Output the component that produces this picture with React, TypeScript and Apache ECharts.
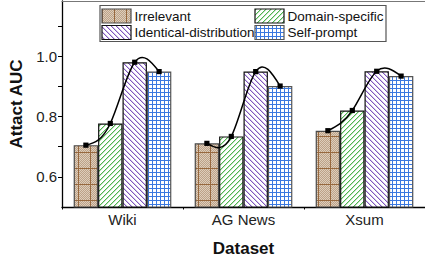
import React, { useEffect, useRef } from "react";
import * as echarts from "echarts";

const categories = ["Wiki", "AG News", "Xsum"];
const seriesNames = ["Irrelevant", "Domain-specific", "Identical-distribution", "Self-prompt"];
const irrelevant = [0.705, 0.711, 0.753];
const domainSpecific = [0.777, 0.734, 0.82];
const identicalDist = [0.98, 0.949, 0.95];
const selfPrompt = [0.949, 0.901, 0.934];
const yLabelValues = [0.6, 0.8, 1.0];
const yTickValues = [0.6, 0.7, 0.8, 0.9, 1.0, 1.1];

const GAP = 0.193;
const FONT = "Liberation Sans, Arial, sans-serif";

function makeTile(w: number, h: number, draw: (ctx: CanvasRenderingContext2D) => void) {
  const c = document.createElement("canvas");
  c.width = w;
  c.height = h;
  const ctx = c.getContext("2d")!;
  draw(ctx);
  return { image: c, repeat: "repeat" } as any;
}

function px(ctx: CanvasRenderingContext2D, x: number, y: number, col: string) {
  ctx.fillStyle = col;
  ctx.fillRect(x, y, 1, 1);
}

function buildPatterns() {
  const brown = makeTile(12, 16, (ctx) => {
    for (let y = 0; y < 16; y++)
      for (let x = 0; x < 12; x++) px(ctx, x, y, (x + y) % 2 ? "#bda288" : "#ddcdbb");
    ctx.fillStyle = "#98693f";
    ctx.fillRect(6, 0, 1, 16);
    ctx.fillRect(0, 8, 12, 1);
  });
  const green = makeTile(5, 5, (ctx) => {
    ctx.fillStyle = "#fff";
    ctx.fillRect(0, 0, 5, 5);
    for (let x = 0; x < 5; x++) {
      px(ctx, x, 4 - x, "#4fb54f");
      px(ctx, (x + 1) % 5, 4 - x, "#bfe3bf");
    }
  });
  const purple = makeTile(5, 5, (ctx) => {
    ctx.fillStyle = "#fff";
    ctx.fillRect(0, 0, 5, 5);
    for (let x = 0; x < 5; x++) {
      px(ctx, x, x, "#8058bd");
      px(ctx, (x + 1) % 5, x, "#d3c3ea");
    }
  });
  const blue = makeTile(4, 4, (ctx) => {
    ctx.fillStyle = "#fff";
    ctx.fillRect(0, 0, 4, 4);
    ctx.fillStyle = "#3a78e0";
    ctx.fillRect(0, 0, 4, 1);
    ctx.fillRect(0, 0, 1, 4);
  });
  return [brown, green, purple, blue];
}

const borderColors = ["#4a4a4a", "#111", "#111", "#555"];

function splineSegments(pts: number[][]) {
  const n = pts.length;
  const xs = pts.map((p) => p[0]);
  const ys = pts.map((p) => p[1]);
  const h: number[] = [];
  for (let i = 0; i < n - 1; i++) h.push(xs[i + 1] - xs[i]);
  const M = new Array(n).fill(0);
  const m = n - 2;
  if (m > 0) {
    const a: number[] = [], b: number[] = [], c: number[] = [], d: number[] = [];
    for (let i = 1; i <= m; i++) {
      a.push(h[i - 1]);
      b.push(2 * (h[i - 1] + h[i]));
      c.push(h[i]);
      d.push(6 * ((ys[i + 1] - ys[i]) / h[i] - (ys[i] - ys[i - 1]) / h[i - 1]));
    }
    for (let i = 1; i < m; i++) {
      const w = a[i] / b[i - 1];
      b[i] -= w * c[i - 1];
      d[i] -= w * d[i - 1];
    }
    const sol = new Array(m).fill(0);
    sol[m - 1] = d[m - 1] / b[m - 1];
    for (let i = m - 2; i >= 0; i--) sol[i] = (d[i] - c[i] * sol[i + 1]) / b[i];
    for (let i = 0; i < m; i++) M[i + 1] = sol[i];
  }
  const segs: any[] = [];
  for (let i = 0; i < n - 1; i++) {
    const hi = h[i];
    const s = (ys[i + 1] - ys[i]) / hi;
    const d0 = s - (hi * (2 * M[i] + M[i + 1])) / 6;
    const d1 = s + (hi * (M[i] + 2 * M[i + 1])) / 6;
    segs.push({
      x1: xs[i], y1: ys[i],
      cpx1: xs[i] + hi / 3, cpy1: ys[i] + (d0 * hi) / 3,
      cpx2: xs[i + 1] - hi / 3, cpy2: ys[i + 1] - (d1 * hi) / 3,
      x2: xs[i + 1], y2: ys[i + 1],
    });
  }
  return segs;
}

export default function App() {
  const ref = useRef<HTMLDivElement>(null);
  useEffect(() => {
    document.body.style.margin = "0";
    const chart = echarts.init(ref.current!, null, { renderer: "svg" });
    const patterns = buildPatterns();
    const values = [irrelevant, domainSpecific, identicalDist, selfPrompt];

    const barSeries = values.map((vals, k) => ({
      type: "bar",
      name: seriesNames[k],
      data: vals,
      barGap: "0%",
      barCategoryGap: (GAP * 100).toFixed(1) + "%",
      itemStyle: { color: patterns[k], borderColor: borderColors[k], borderWidth: 1.2 },
      z: 2,
    }));

    const curveSeries = {
      type: "custom",
      name: "curve",
      z: 5,
      data: categories.map((c, i) => [i, irrelevant[i], domainSpecific[i], identicalDist[i], selfPrompt[i]]),
      encode: { x: 0, y: [1, 2, 3, 4] },
      renderItem: (params: any, api: any) => {
        const idx = api.value(0);
        const band = api.size([1, 0])[0];
        const barW = (band * (1 - GAP)) / 4;
        const cx = api.coord([idx, 0.6])[0];
        const pts = [1, 2, 3, 4].map((k, j) => [cx + (j - 1.5) * barW, api.coord([idx, api.value(k)])[1]]);
        const segs = splineSegments(pts);
        return {
          type: "group",
          children: [
            ...segs.map((s) => ({
              type: "bezierCurve",
              shape: s,
              style: { fill: "none", stroke: "#000", lineWidth: 1.5 },
            })),
            ...pts.map((p) => ({
              type: "rect",
              shape: { x: p[0] - 2.6, y: p[1] - 2.6, width: 5.2, height: 5.2 },
              style: { fill: "#000" },
            })),
          ],
        };
      },
    };

    const legendPos = [
      { ix: 102, iy: 9, tx: 134.5, ty: 16 },
      { ix: 255, iy: 9, tx: 287.5, ty: 16 },
      { ix: 102, iy: 25.5, tx: 134.5, ty: 32.5 },
      { ix: 255, iy: 25.5, tx: 287.5, ty: 32.5 },
    ];
    const legendTexts = seriesNames.map((name, k) => ({
      type: "text",
      x: legendPos[k].tx,
      y: legendPos[k].ty,
      z: 10,
      style: { text: name, font: `13.5px ${FONT}`, fill: "#111", verticalAlign: "middle", align: "left" },
    }));
    const legendIcons = seriesNames.map((name, k) => ({
      type: "rect",
      z: 11,
      shape: { x: legendPos[k].ix, y: legendPos[k].iy, width: 29, height: 14 },
      style: { fill: patterns[k], stroke: borderColors[k], lineWidth: 1.2 },
    }));

    chart.setOption({
      animation: false,
      grid: { left: 62, top: 1, width: 368, height: 207 },
      xAxis: [
        {
          type: "category",
          data: categories,
          position: "bottom",
          axisLine: { lineStyle: { color: "#000", width: 1.3 } },
          axisTick: { alignWithLabel: true, length: 4, lineStyle: { color: "#000", width: 1 } },
          axisLabel: { fontSize: 15, fontFamily: FONT, color: "#222", margin: 5 },
          name: "Dataset",
          nameLocation: "middle",
          nameGap: 33,
          nameTextStyle: { fontSize: 17, fontWeight: "bold", fontFamily: FONT, color: "#111", verticalAlign: "top" },
        },
        {
          type: "category",
          data: categories,
          position: "top",
          axisLine: { lineStyle: { color: "#777", width: 1.2 } },
          axisTick: { show: false },
          axisLabel: { show: false },
        },
        {
          type: "category",
          data: categories,
          position: "bottom",
          axisLine: { show: false },
          axisTick: { show: true, length: 2.5, lineStyle: { color: "#000", width: 1 } },
          axisLabel: { show: false },
        },
      ],
      yAxis: {
        type: "value",
        min: 0.5,
        max: 1.183,
        splitLine: { show: false },
        axisLine: { show: true, lineStyle: { color: "#000", width: 1.3 } },
        axisTick: { show: true, length: 4, customValues: yTickValues, lineStyle: { color: "#000" } },
        axisLabel: {
          customValues: yLabelValues,
          formatter: (v: number) => v.toFixed(1),
          fontSize: 15,
          fontFamily: FONT,
          color: "#222",
          margin: 5,
        },
        name: "Attact AUC",
        nameLocation: "middle",
        nameGap: 31,
        nameTextStyle: { fontSize: 17, fontWeight: "bold", fontFamily: FONT, color: "#111" },
      },
      series: [...barSeries, curveSeries],
      graphic: [
        {
          type: "rect",
          z: 9,
          shape: { x: 100, y: 5.5, width: 286, height: 36 },
          style: { fill: "#fff", stroke: "#555", lineWidth: 1.2 },
        },
        ...legendTexts,
        ...legendIcons,
      ],
    });
    return () => chart.dispose();
  }, []);
  return <div ref={ref} style={{ width: 425, height: 262 }} />;
}
